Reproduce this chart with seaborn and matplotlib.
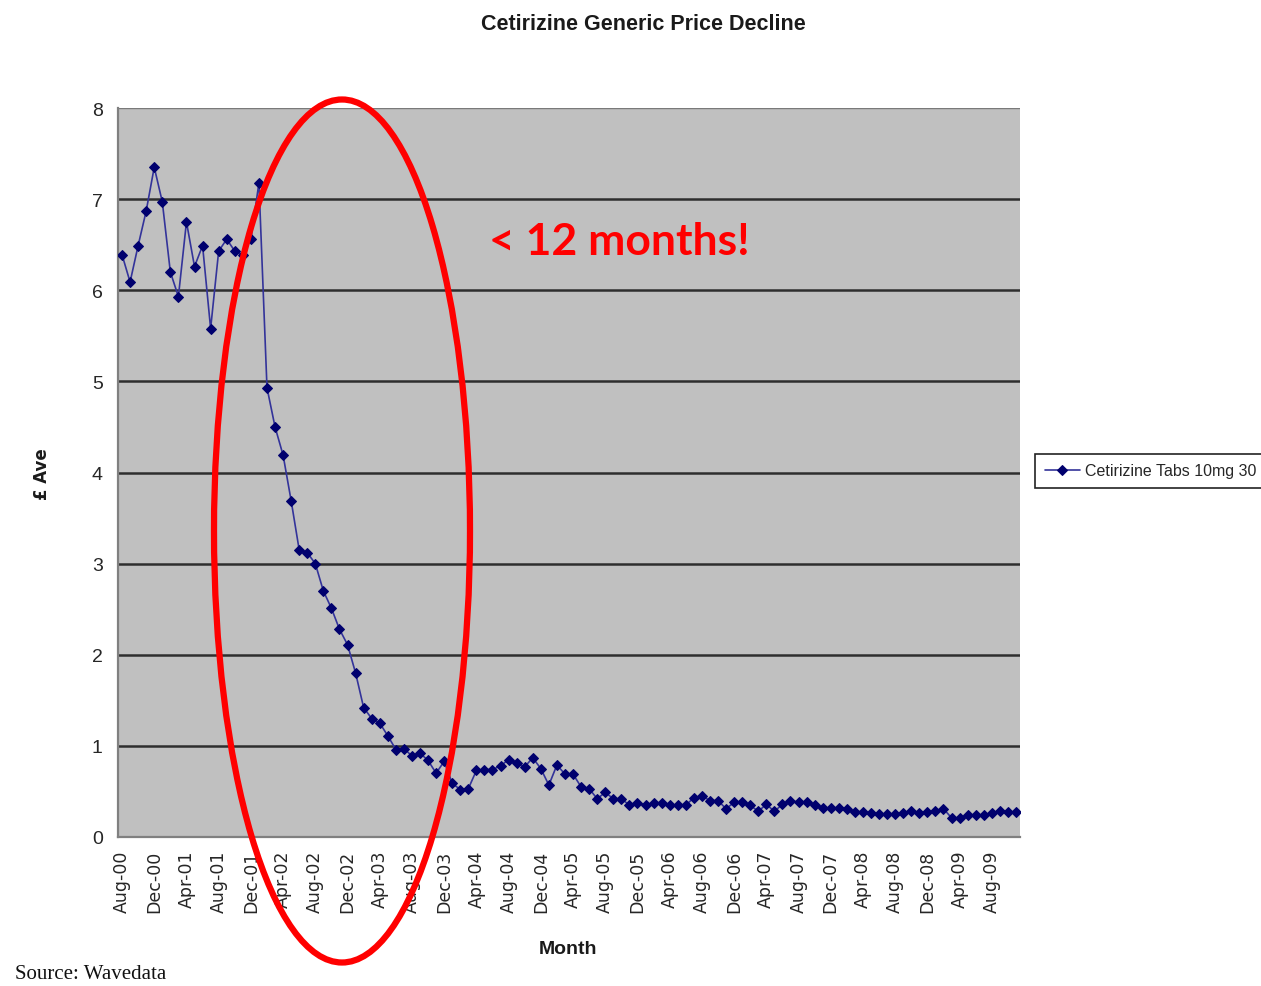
import numpy as np
import pandas as pd
import matplotlib
matplotlib.use("Agg")
import matplotlib.pyplot as plt
from matplotlib import font_manager
from matplotlib.patches import Ellipse
import seaborn as sns

# Monthly average price (GBP) of Cetirizine 10mg tablets, Aug 2000 onwards
start_month = "2000-08"
price = [
    6.39, 6.09, 6.49, 6.87, 7.35, 6.97, 6.20, 5.93, 6.75, 6.26, 6.49, 5.58,
    6.43, 6.56, 6.43, 6.39, 6.56, 7.18,
    4.93, 4.50, 4.19, 3.69, 3.15, 3.12, 3.00, 2.70, 2.51, 2.28, 2.11, 1.80, 1.42,
    1.30, 1.25, 1.11, 0.96, 0.97, 0.89, 0.92, 0.84, 0.70, 0.83, 0.59, 0.52, 0.53,
    0.73, 0.74, 0.74, 0.78, 0.85, 0.81, 0.77, 0.87, 0.75, 0.57, 0.79, 0.69, 0.69,
    0.55,
    0.53, 0.42, 0.49, 0.42, 0.42, 0.35, 0.37, 0.35, 0.37, 0.37, 0.35, 0.35, 0.35,
    0.43, 0.45, 0.40, 0.40, 0.31, 0.38, 0.38, 0.35, 0.28, 0.36, 0.28, 0.36, 0.40,
    0.38,
    0.38, 0.35, 0.32, 0.32, 0.32, 0.31, 0.27, 0.27, 0.26, 0.25, 0.25, 0.25, 0.26,
    0.28, 0.26, 0.27, 0.28, 0.31, 0.21, 0.21, 0.24, 0.24, 0.24, 0.26, 0.29, 0.27,
    0.27,
]
tick_labels = [
    "Aug-00", "Dec-00", "Apr-01", "Aug-01", "Dec-01", "Apr-02", "Aug-02",
    "Dec-02", "Apr-03", "Aug-03", "Dec-03", "Apr-04", "Aug-04", "Dec-04",
    "Apr-05", "Aug-05", "Dec-05", "Apr-06", "Aug-06", "Dec-06", "Apr-07",
    "Aug-07", "Dec-07", "Apr-08", "Aug-08", "Dec-08", "Apr-09", "Aug-09",
]
y_ticks = [0, 1, 2, 3, 4, 5, 6, 7, 8]
series_name = "Cetirizine Tabs 10mg 30"

months = pd.period_range(start_month, periods=len(price), freq="M")
df = pd.DataFrame({"idx": np.arange(len(price)), "month": months.strftime("%b-%y"),
                   "price": price})

sns.set_style("white")
available = {f.name for f in font_manager.fontManager.ttflist}
narrow = "Liberation Sans Narrow" if "Liberation Sans Narrow" in available else "Liberation Sans"
plt.rcParams["font.family"] = ["DejaVu Sans"]

fig = plt.figure(figsize=(12.61, 9.87), dpi=100)
fig.patch.set_facecolor("white")
ax = fig.add_axes([118 / 1261, 1 - 838 / 987, (1020 - 118) / 1261, (838 - 109) / 987])
ax.set_facecolor("#C0C0C0")

sns.lineplot(data=df, x="idx", y="price", ax=ax, color="#33339a", linewidth=1.2,
             marker="D", markersize=5.5, markerfacecolor="#00006e",
             markeredgecolor="#00006e", label=series_name, legend=False, zorder=3)

n = len(price)
ax.set_xlim(-0.5, n - 0.5)
ax.set_ylim(0, 8)

# horizontal gridlines
for v in y_ticks[1:]:
    ax.axhline(v, color="#2e2e2e" if v < 8 else "#7a7a7a", linewidth=1.8 if v < 8 else 1.0, zorder=1)

for side in ["top", "right"]:
    ax.spines[side].set_visible(False)
for side in ["left", "bottom"]:
    ax.spines[side].set_color("#808080")
    ax.spines[side].set_linewidth(1.6)

ax.set_yticks(y_ticks)
ax.set_yticklabels([str(v) for v in y_ticks], fontfamily=narrow, fontsize=14)
ax.tick_params(axis="y", length=5, width=1.2, color="#808080", pad=6)

label_pos = np.arange(0, n, 4)[:len(tick_labels)]
ax.set_xticks(label_pos)
ax.set_xticklabels(tick_labels, rotation=90, fontsize=12.5, fontfamily="DejaVu Sans")
ax.set_xticks(np.arange(-0.5, n, 4), minor=True)
ax.tick_params(axis="x", which="major", length=0, pad=9)
ax.tick_params(axis="x", which="minor", length=6, width=1.2, color="#808080")

ax.set_xlabel("")
ax.set_ylabel("")

fig.text(643 / 1261, 1 - 25 / 987, "Cetirizine Generic Price Decline", ha="center",
         va="center", fontsize=15.5, fontweight="bold", fontfamily=narrow, color="#1a1a1a")
fig.text(568 / 1261, 1 - 950 / 987, "Month", ha="center", va="center", fontsize=14,
         fontweight="bold", fontfamily=narrow, color="#1a1a1a")
fig.text(42 / 1261, 1 - 474 / 987, "£ Ave", ha="center", va="center", rotation=90,
         fontsize=12, fontweight="bold", fontfamily="DejaVu Sans", color="#1a1a1a")
fig.text(15 / 1261, 1 - 975 / 987, "Source: Wavedata", ha="left", va="center",
         fontsize=15, fontfamily="Liberation Serif", color="#111111")

leg = fig.legend(handles=ax.get_lines()[:1], labels=[series_name], loc="center left",
                 bbox_to_anchor=(1035 / 1261, 1 - 472 / 987), frameon=True,
                 fancybox=False, edgecolor="#222222", framealpha=1,
                 prop={"family": narrow, "size": 11.5}, handlelength=2.2,
                 handletextpad=0.3, borderpad=0.6, borderaxespad=0.0)
leg.get_frame().set_linewidth(1.2)

# highlight of the price collapse
ell = Ellipse((342 / 1261, 1 - 532 / 987), width=256 / 1261, height=863 / 987,
              transform=fig.transFigure, fill=False, edgecolor="#ff0000",
              linewidth=4.5, zorder=10)
fig.add_artist(ell)
fig.text(489 / 1261, 1 - 242 / 987, "< 12 months!", ha="left", va="center",
         fontsize=32, fontweight="bold", fontfamily="Lato", color="#ff0000", zorder=11)

fig.savefig("out.png", dpi=100, facecolor="white")
